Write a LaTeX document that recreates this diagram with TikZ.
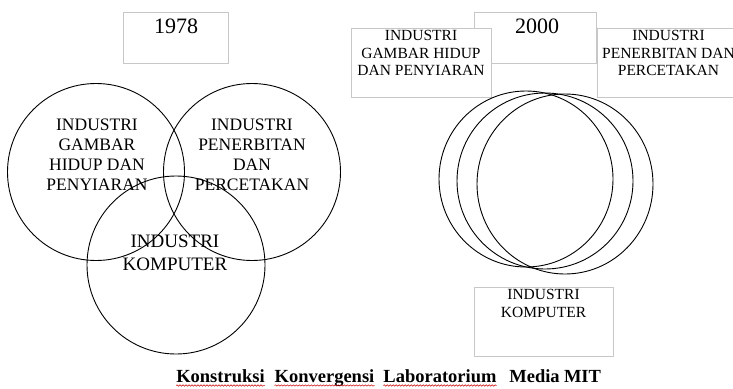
\documentclass[tikz,border=0pt]{standalone}
\usepackage{fontspec}
\setmainfont{Liberation Serif}
\usetikzlibrary{decorations.pathmorphing}

\begin{document}
\begin{tikzpicture}[x=1pt,y=-1pt,
  frame/.style={draw=black!22, line width=0.9pt, fill=white, inner sep=0pt},
  ring/.style={circle, draw=black, line width=0.9pt, inner sep=0pt},
  yearlbl/.style={inner sep=0pt, font=\fontsize{22}{24}\selectfont},
  circlbl/.style={align=center, inner sep=0pt, font=\fontsize{17.5}{20}\selectfont},
  complbl/.style={align=center, inner sep=0pt, font=\fontsize{19}{23}\selectfont},
  boxlbl/.style={align=center, inner sep=0pt, font=\fontsize{15.5}{17.5}\selectfont},
  capword/.style={inner sep=0pt, anchor=base, font=\bfseries\fontsize{18.5}{20}\selectfont},
  squiggle/.style={draw=red!80!black, line width=0.5pt,
    decorate, decoration={snake, amplitude=0.7pt, segment length=3pt}}]
\useasboundingbox (0,0) rectangle (733,388);
\clip (0,0) rectangle (733,388);

% ---- 1978: three overlapping industries ----
\node[frame, minimum width=105pt, minimum height=51pt] (box78) at (175.5,37.5) {};
\node[yearlbl] (t78) at (176,26) {1978};

\node[ring, minimum size=177pt] (cfilm) at (96,172) {};
\node[ring, minimum size=177pt] (cpub)  at (252,172) {};
\node[ring, minimum size=178pt] (ccomp) at (176,265) {};

\node[circlbl] (tfilm) at (97,155) {INDUSTRI\\GAMBAR\\HIDUP DAN\\PENYIARAN};
\node[circlbl] (tpub)  at (252,155) {INDUSTRI\\PENERBITAN\\DAN\\PERCETAKAN};
\node[complbl] (tcomp) at (175,253) {INDUSTRI\\KOMPUTER};

% ---- 2000: converged industries ----
\node[frame, minimum width=122pt, minimum height=51pt] (box00) at (535,37.5) {};
\node[yearlbl] (t00) at (537,26) {2000};

\node[frame, minimum width=140pt, minimum height=69pt] (bfilm) at (421,62.5) {};
\node[boxlbl, anchor=north] (tbfilm) at ([yshift=-2.5pt]bfilm.north) {INDUSTRI\\GAMBAR HIDUP\\DAN PENYIARAN};

\node[frame, minimum width=143pt, minimum height=69pt] (bpub) at (668.5,62.5) {};
\node[boxlbl, anchor=north] (tbpub) at ([yshift=-2.5pt]bpub.north) {INDUSTRI\\PENERBITAN DAN\\PERCETAKAN};

\draw[line width=0.9pt] (526,179) ellipse [x radius=87, y radius=88];
\draw[line width=0.9pt] (545,181) ellipse [x radius=88, y radius=88];
\draw[line width=0.9pt] (565,184) ellipse [x radius=88, y radius=90];

\node[frame, minimum width=139pt, minimum height=69pt] (bcomp) at (543.5,321.5) {};
\node[boxlbl, anchor=north] (tbcomp) at ([yshift=-2.5pt]bcomp.north) {INDUSTRI\\KOMPUTER};

% ---- caption ----
\node[capword] (w1) at (220.5,382) {Konstruksi};
\node[capword] (w2) at (324.5,382) {Konvergensi};
\node[capword] (w3) at (440,382) {Laboratorium};
\node[capword] (w4) at (534.5,382) {Media};
\node[capword] (w5) at (582.5,382) {MIT};

\path[squiggle] ([yshift=-3.5pt]w1.base west) -- ([yshift=-3.5pt]w1.base east);
\path[squiggle] ([yshift=-3.5pt]w2.base west) -- ([yshift=-3.5pt]w2.base east);
\path[squiggle] ([yshift=-3.5pt]w3.base west) -- ([yshift=-3.5pt]w3.base east);
\end{tikzpicture}
\end{document}
